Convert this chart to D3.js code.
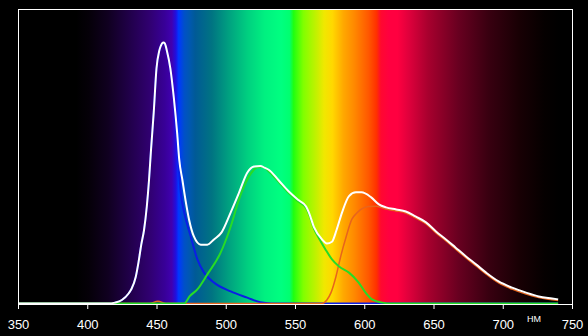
<!DOCTYPE html>
<html>
<head>
<meta charset="utf-8">
<script src="https://cdn.jsdelivr.net/npm/d3@7"></script>
<style>
  html, body { margin: 0; padding: 0; background: #000; }
  svg { display: block; }
</style>
</head>
<body>
<div id="chart"></div>
<script>
const WIDTH = 588, HEIGHT = 336;
const X0 = 18, X1 = 572, Y0 = 304, Y1 = 10; // plot frame

// x ticks (nm)
const xTicks = [350, 400, 450, 500, 550, 600, 650, 700, 750];
const unitLabel = "НМ";

// spectrum background: [nm, colour]
const spectrumStops = [
    [350, "#000000"], [392, "#000000"], [401, "#050008"], [415, "#100020"],
    [430, "#200048"], [445, "#300070"], [456, "#380098"], [461, "#4000b0"],
    [464, "#2010e0"], [466, "#0038ff"], [470, "#0050c8"], [474, "#0058b0"],
    [478, "#005a96"], [490, "#007482"], [502, "#00a080"], [516, "#00d080"],
    [528, "#00f080"], [540, "#00ff80"], [546, "#00ff70"], [549, "#20ff10"],
    [556, "#80ff00"], [566, "#c8f000"], [571, "#f0e800"], [577, "#ffd800"],
    [585, "#ffa800"], [593, "#ff8800"], [603, "#ff5800"], [609, "#ff3000"],
    [612, "#ff0830"], [618, "#ff0040"], [624, "#ff0040"], [632, "#e0003c"],
    [646, "#a8002e"], [668, "#680020"], [690, "#380010"], [712, "#180004"],
    [730, "#050000"], [742, "#000000"], [750, "#000000"]
];

// total (white)
const whiteData = [
    [350, 0], [415, 0], [420, 0.003], [425, 0.012], [430, 0.035], [432, 0.05],
    [435, 0.09], [437, 0.14], [439, 0.2], [441, 0.25], [443, 0.33], [444.6, 0.42],
    [446, 0.52], [448, 0.65], [450, 0.8], [452, 0.86], [453, 0.875], [455, 0.888],
    [456, 0.885], [457.5, 0.86], [460, 0.8], [462.5, 0.7], [465, 0.575], [466.4, 0.49],
    [468.7, 0.42], [471, 0.35], [473.5, 0.286], [477, 0.228], [482, 0.2], [486.7, 0.2],
    [491.5, 0.218], [497, 0.242], [503.6, 0.31], [509.6, 0.377], [515.5, 0.445],
    [520.4, 0.466], [525, 0.468], [528, 0.462], [531, 0.455], [538, 0.42], [545.7, 0.38],
    [553, 0.35], [558, 0.33], [560, 0.31], [563.7, 0.26], [569.5, 0.218], [573, 0.204],
    [576.7, 0.21], [580, 0.25], [584, 0.31], [589, 0.365], [594, 0.378], [598, 0.378],
    [605, 0.361], [610.6, 0.337], [615.7, 0.327], [623, 0.32], [630, 0.313],
    [637, 0.296], [644.6, 0.276], [651.8, 0.245], [659, 0.218], [666, 0.19],
    [673.5, 0.16], [680.7, 0.133], [688, 0.105], [697, 0.075], [706.7, 0.054],
    [716.8, 0.037], [726, 0.024], [735.6, 0.017], [740, 0.014]
];

// blue LED component
const blueData = [
    [350, 0], [415, 0], [420, 0.003], [425, 0.012], [430, 0.035], [432, 0.05],
    [435, 0.09], [437, 0.14], [439, 0.2], [441, 0.25], [443, 0.33], [444.6, 0.42],
    [446, 0.52], [448, 0.65], [450, 0.8], [452, 0.86], [453, 0.875], [455, 0.886],
    [456, 0.883], [457.5, 0.858], [460, 0.798], [462.5, 0.698], [465, 0.55],
    [467.5, 0.378], [470, 0.31], [474.7, 0.228], [479.5, 0.15], [484.3, 0.105],
    [491.5, 0.071], [503.6, 0.041], [515.5, 0.02], [525, 0.004], [533, 0], [740, 0]
];

// green component
const greenData = [
    [350, 0], [469.9, 0], [474, 0.025], [479.5, 0.048], [486.7, 0.099], [496.3, 0.173],
    [503.6, 0.262], [509.6, 0.354], [514.4, 0.411], [519.2, 0.449], [522.6, 0.463],
    [527, 0.464], [531, 0.45], [538, 0.415], [545.7, 0.375], [553, 0.345], [558, 0.325],
    [560, 0.305], [563.7, 0.255], [568, 0.216], [572, 0.184], [576.7, 0.15],
    [581.8, 0.126], [589, 0.105], [596, 0.071], [601, 0.037], [605.6, 0.014],
    [613, 0.003], [620, 0], [740, 0]
];

// red component
const redData = [
    [350, 0], [445, 0], [451, 0.008], [457, 0], [569.5, 0], [573, 0.012], [576, 0.037],
    [579.6, 0.092], [583, 0.16], [587, 0.228], [591, 0.286], [594.5, 0.307],
    [597.6, 0.32], [603, 0.33], [609, 0.331], [615.7, 0.321], [623, 0.315],
    [630, 0.308], [637, 0.291], [644.6, 0.271], [651.8, 0.24], [659, 0.213],
    [666, 0.185], [673.5, 0.155], [680.7, 0.128], [688, 0.1], [697, 0.07],
    [706.7, 0.049], [716.8, 0.032], [726, 0.02], [735.6, 0.013], [740, 0.01]
];

const svg = d3.select("#chart")
    .append("svg")
    .attr("width", WIDTH)
    .attr("height", HEIGHT)
    .style("background", "#000")

const x = d3.scaleLinear().domain([350, 750]).range([X0, X1]);
const y = d3.scaleLinear().domain([0, 1]).range([Y0, Y1]);

// spectrum gradient
const grad = svg.append("defs").append("linearGradient")
    .attr("id", "spectrum")
    .attr("gradientUnits", "userSpaceOnUse")
    .attr("x1", x(350)).attr("x2", x(750))
    .attr("y1", 0).attr("y2", 0);
grad.selectAll("stop").data(spectrumStops).enter().append("stop")
    .attr("offset", d => (d[0] - 350) / 400)
    .attr("stop-color", d => d[1]);

svg.append("rect")
    .attr("x", X0).attr("y", Y1)
    .attr("width", X1 - X0).attr("height", Y0 - Y1)
    .attr("fill", "url(#spectrum)");

const line = d3.line()
    .x(d => x(d[0]))
    .y(d => y(d[1]) - 0.5)
    .curve(d3.curveMonotoneX);

const series = [
    { data: blueData, color: "#0a1ee6", width: 2 },
    { data: redData, color: "#e8641c", width: 1.5 },
    { data: greenData, color: "#26dc26", width: 2 },
    { data: whiteData, color: "#ffffff", width: 2 }
];
svg.selectAll("path.curve").data(series).enter().append("path")
    .attr("class", "curve")
    .attr("d", d => line(d.data))
    .attr("fill", "none")
    .attr("stroke", d => d.color)
    .attr("stroke-width", d => d.width)
    .attr("stroke-linejoin", "round");

// frame
svg.append("rect")
    .attr("x", X0 + 0.5).attr("y", Y1 - 0.5)
    .attr("width", X1 - X0).attr("height", Y0 - Y1 + 1)
    .attr("fill", "none")
    .attr("stroke", "#fff")
    .attr("stroke-width", 1);

// x axis
const xAxis = svg.append("g")
    .attr("transform", `translate(0,${Y0})`)
    .call(d3.axisBottom(x).tickValues(xTicks).tickSize(5).tickPadding(11).tickSizeOuter(0))
xAxis.select(".domain").attr("stroke", "#fff");
xAxis.selectAll(".tick line").attr("stroke", "#fff");
xAxis.selectAll(".tick text")
    .attr("fill", "#fff")
    .style("font-family", "'Liberation Sans', Arial, sans-serif")
    .style("font-size", "13px");

svg.append("text")
    .attr("x", x(722.5))
    .attr("y", 321.5)
    .attr("text-anchor", "middle")
    .attr("fill", "#fff")
    .style("font-family", "'Liberation Sans', Arial, sans-serif")
    .style("font-size", "9px")
    .text(unitLabel);
</script>
</body>
</html>
